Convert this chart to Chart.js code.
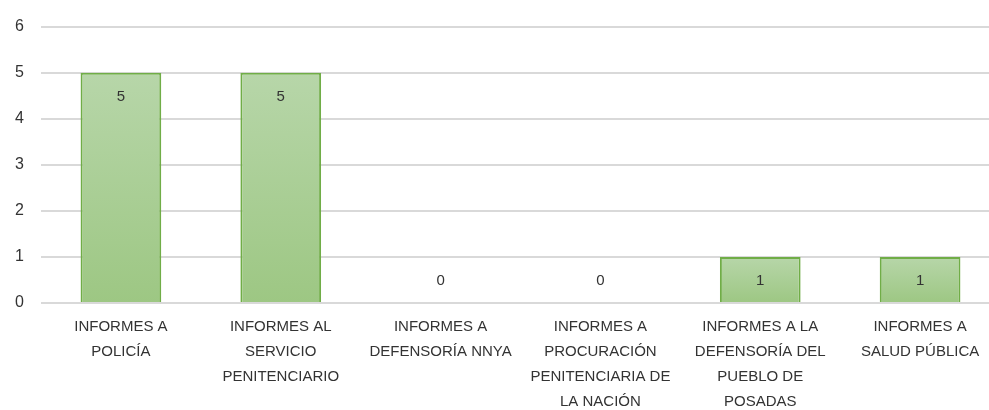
<!DOCTYPE html>
<html>
<head>
<meta charset="utf-8">
<script src="https://cdn.jsdelivr.net/npm/chart.js@4"></script>
<style>
  html, body { margin: 0; padding: 0; background: #fff; overflow: hidden; }
  #wrap { width: 1000px; height: 410px; }
</style>
</head>
<body>
<div id="wrap"><canvas id="informes-bar-chart"></canvas></div>
<script>
    const labelCategorias = [
        ["INFORMES A", "POLICÍA"],
        ["INFORMES AL", "SERVICIO", "PENITENCIARIO"],
        ["INFORMES A", "DEFENSORÍA NNYA"],
        ["INFORMES A", "PROCURACIÓN", "PENITENCIARIA DE", "LA NACIÓN"],
        ["INFORMES A LA", "DEFENSORÍA DEL", "PUEBLO DE", "POSADAS"],
        ["INFORMES A", "SALUD PÚBLICA"]
    ]
    const labelInformes = [5, 5, 0, 0, 1, 1]
    const yTicks = [0, 1, 2, 3, 4, 5, 6]

    const fuente = "'Liberation Sans', Arial, sans-serif"

    // value labels: inside the top of the bar, above the axis when the bar is empty
    const valueLabels = {
        id: "valueLabels",
        afterDatasetsDraw(chart) {
            const ctx = chart.ctx
            const meta = chart.getDatasetMeta(0)
            ctx.save()
            ctx.font = "15px " + fuente
            ctx.fillStyle = "#333333"
            ctx.textAlign = "center"
            ctx.textBaseline = "middle"
            meta.data.forEach((bar, i) => {
                const v = labelInformes[i]
                const y = v > 0 ? bar.y + 24 : bar.base - 22
                ctx.fillText(String(v), bar.x, y)
            })
            ctx.restore()
        }
    }

    // each bar gets its own light-to-dark gradient, like the Excel fill
    function verde(context) {
        const chart = context.chart
        const y = chart.scales && chart.scales.y
        if (!chart.chartArea || !y || context.raw == null) return "#a9cf94"
        const top = y.getPixelForValue(context.raw)
        const bottom = y.getPixelForValue(0)
        if (bottom - top < 1) return "#a9cf94"
        const g = chart.ctx.createLinearGradient(0, top, 0, bottom)
        g.addColorStop(0, "#b7d6a9")
        g.addColorStop(1, "#9dc783")
        return g
    }

    const dataObj = {
        labels: labelCategorias,
        datasets: [
            {
                label: "informes",
                data: labelInformes,
                backgroundColor: verde,
                borderColor: "#70ad47",
                borderWidth: 2,
                categoryPercentage: 1,
                barPercentage: 0.505
            }
        ]
    }

    new Chart("informes-bar-chart", {
        type: "bar",
        data: dataObj,
        plugins: [valueLabels],
        options: {
            responsive: true,
            maintainAspectRatio: false,
            animation: false,
            layout: { padding: { top: 25, right: 0, left: 0, bottom: 0 } },
            plugins: {
                legend: { display: false },
                tooltip: { enabled: false }
            },
            scales: {
                x: {
                    grid: { display: false, drawTicks: false },
                    border: { display: false },
                    ticks: {
                        autoSkip: false,
                        maxRotation: 0,
                        minRotation: 0,
                        padding: 11,
                        color: "#333333",
                        font: { family: fuente, size: 15, lineHeight: "25px" }
                    },
                    afterFit(scale) { scale.height = 107 }
                },
                y: {
                    min: 0,
                    max: 6,
                    afterBuildTicks(scale) { scale.ticks = yTicks.map(v => ({ value: v })) },
                    grid: { color: "#d9d9d9", lineWidth: 2, drawTicks: false },
                    border: { display: false },
                    ticks: {
                        padding: 17,
                        color: "#333333",
                        font: { family: fuente, size: 16 }
                    },
                    afterFit(scale) { scale.width = 41 }
                }
            }
        }
    })
</script>
</body>
</html>
